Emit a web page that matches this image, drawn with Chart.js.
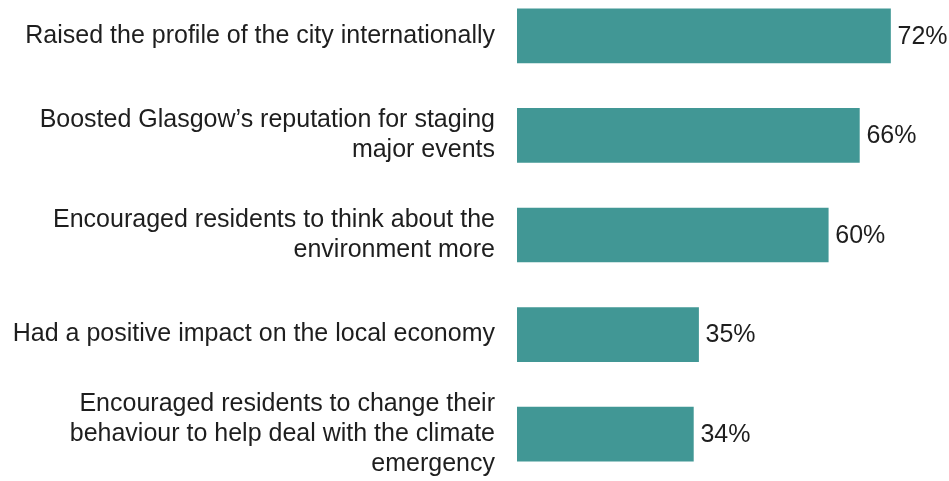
<!DOCTYPE html>
<html>
<head>
<meta charset="utf-8">
<script src="https://cdn.jsdelivr.net/npm/chart.js@4"></script>
<style>
  html, body { margin: 0; padding: 0; background: #fff; overflow: hidden; }
  #wrap { position: absolute; left: 0; top: -14px; width: 949px; height: 498px; }
</style>
</head>
<body>
<div id="wrap"><canvas id="impactChart"></canvas></div>
<script>
// survey statements and share agreeing (%)
const statements = [
  ["Raised the profile of the city internationally"],
  ["Boosted Glasgow\u2019s reputation for staging", "major events"],
  ["Encouraged residents to think about the", "environment more"],
  ["Had a positive impact on the local economy"],
  ["Encouraged residents to change their", "behaviour to help deal with the climate", "emergency"]
];
const agreePct = [72, 66, 60, 35, 34];

const barColour = '#419795';
const textColour = '#1e1e1e';
const fontFamily = '"Liberation Sans", Arial, sans-serif';

// writes the percentage just past the end of each bar
const valueLabels = {
  id: 'valueLabels',
  afterDatasetsDraw(chart) {
    const { ctx } = chart;
    const meta = chart.getDatasetMeta(0);
    ctx.save();
    ctx.font = '25px ' + fontFamily;
    ctx.fillStyle = textColour;
    ctx.textAlign = 'left';
    ctx.textBaseline = 'middle';
    meta.data.forEach((bar, i) => {
      ctx.fillText(agreePct[i] + '%', bar.x + 7, bar.y + 1);
    });
    ctx.restore();
  }
};

new Chart(document.getElementById('impactChart'), {
  type: 'bar',
  data: {
    labels: statements,
    datasets: [{
      data: agreePct,
      backgroundColor: barColour,
      barThickness: 54
    }]
  },
  options: {
    indexAxis: 'y',
    responsive: true,
    maintainAspectRatio: false,
    animation: false,
    layout: { padding: { left: 0, right: 17, top: 0, bottom: 0 } },
    plugins: {
      legend: { display: false },
      tooltip: { enabled: false }
    },
    scales: {
      x: {
        display: false,
        min: 0,
        max: 80
      },
      y: {
        afterFit(scale) {
          // fixed gutter for the labels, no extra room above/below the bars
          scale.width = 517;
          scale.paddingTop = 0;
          scale.paddingBottom = 0;
        },
        grid: { display: false, drawTicks: false },
        border: { display: false },
        ticks: {
          padding: 22,
          color: textColour,
          font: { family: fontFamily, size: 25, lineHeight: 1.2 }
        }
      }
    }
  },
  plugins: [valueLabels]
});
</script>
</body>
</html>
